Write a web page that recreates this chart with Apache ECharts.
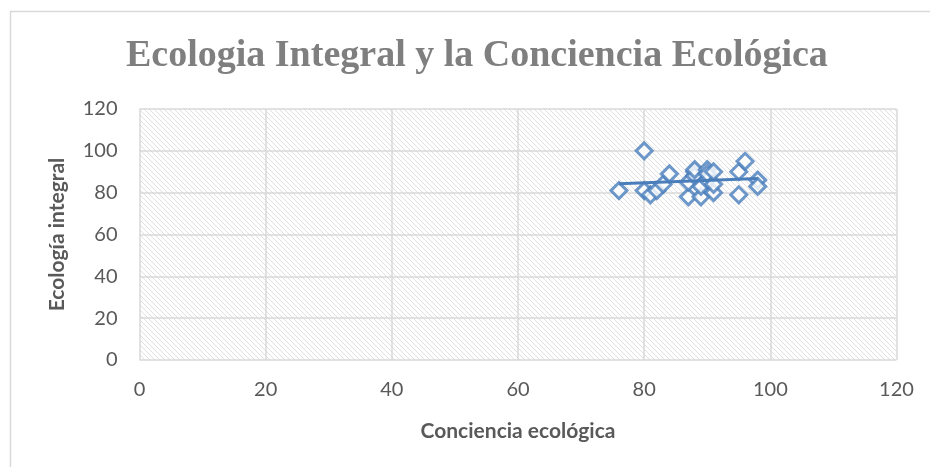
<!DOCTYPE html>
<html>
<head>
<meta charset="utf-8">
<script src="https://cdn.jsdelivr.net/npm/echarts@6/dist/echarts.min.js"></script>
<style>html,body{margin:0;padding:0;background:#fff}#c{width:930px;height:467px}</style>
</head>
<body>
<div id="c"></div>
<script>
var titleText = 'Ecologia Integral y la Conciencia Ecológica';
var xName = 'Conciencia ecológica';
var yName = 'Ecología integral';
var concienciaX = [76, 80, 80, 81, 82, 83, 84, 87, 87, 88, 88, 88, 89, 89, 90, 90, 90, 91, 91, 91, 95, 95, 96, 98, 98];
var ecologiaY   = [81, 100, 81, 79, 81, 84, 89, 78, 85, 90, 88, 91, 78, 83, 91, 86, 89, 80, 84, 90, 90, 79, 95, 86, 83];
var axisTicks = [0, 20, 40, 60, 80, 100, 120];

var points = concienciaX.map(function (x, i) { return [x, ecologiaY[i]]; });

// linear trend line (least squares) from the data
var n = concienciaX.length, sx = 0, sy = 0, sxx = 0, sxy = 0;
for (var i = 0; i < n; i++) { sx += concienciaX[i]; sy += ecologiaY[i]; sxx += concienciaX[i]*concienciaX[i]; sxy += concienciaX[i]*ecologiaY[i]; }
var slope = (n*sxy - sx*sy) / (n*sxx - sx*sx);
var icpt = (sy - slope*sx) / n;
var xmin = Math.min.apply(null, concienciaX), xmax = Math.max.apply(null, concienciaX);
var trend = [[xmin, icpt + slope*xmin], [xmax, icpt + slope*xmax]];

// hatch pattern
var tile = document.createElement('canvas');
tile.width = 5; tile.height = 5;
var tc = tile.getContext('2d');
tc.fillStyle = '#ffffff'; tc.fillRect(0,0,5,5);
tc.fillStyle = '#e0e0e0';
for (var k = 0; k < 5; k++) { tc.fillRect(k, k, 1, 1); }

var blue = '#4a7ebb';
var chart = echarts.init(document.getElementById('c'), null, {renderer: 'canvas'});
chart.setOption({
  animation: false,
  backgroundColor: '#ffffff',
  title: {
    text: titleText,
    left: 121, top: 32,
    textStyle: { fontFamily: 'Liberation Serif', fontWeight: 'bold', fontSize: 38, color: '#7f7f7f' }
  },
  graphic: [
    { type: 'line', shape: { x1: 10, y1: 11.5, x2: 930, y2: 11.5 }, style: { stroke: '#d9d9d9', lineWidth: 1.5 } },
    { type: 'line', shape: { x1: 10.5, y1: 11.5, x2: 10.5, y2: 467 }, style: { stroke: '#d9d9d9', lineWidth: 1.5 } }
  ],
  grid: {
    left: 139.5, top: 109, right: 33.5, bottom: 107,
    show: true, borderWidth: 0,
    backgroundColor: { image: tile, repeat: 'repeat' }
  },
  xAxis: {
    type: 'value', min: 0, max: 120, interval: 20,
    name: xName, nameLocation: 'middle', nameGap: 61,
    nameTextStyle: { fontFamily: 'Lato', fontWeight: 'bold', fontSize: 21, color: '#595959' },
    axisLine: { show: false }, axisTick: { show: false },
    axisLabel: { margin: 20, fontFamily: 'Lato', fontSize: 20, color: '#595959',
      formatter: function (v) { return axisTicks.indexOf(v) >= 0 ? String(v) : ''; } },
    splitLine: { show: true, lineStyle: { color: '#d9d9d9', width: 1.5 } }
  },
  yAxis: {
    type: 'value', min: 0, max: 120, interval: 20,
    name: yName, nameLocation: 'middle', nameGap: 72,
    nameTextStyle: { fontFamily: 'Lato', fontWeight: 'bold', fontSize: 21, color: '#595959' },
    axisLine: { show: false }, axisTick: { show: false },
    axisLabel: { margin: 22, fontFamily: 'Lato', fontSize: 20, color: '#595959',
      formatter: function (v) { return axisTicks.indexOf(v) >= 0 ? String(v) : ''; } },
    splitLine: { show: true, lineStyle: { color: '#d9d9d9', width: 1.5 } }
  },
  series: [
    {
      type: 'scatter', data: points, symbol: 'diamond', symbolSize: 16,
      itemStyle: { color: '#ffffff', borderColor: blue, borderWidth: 3 },
      z: 2
    },
    {
      type: 'line', data: trend, showSymbol: false, symbol: 'none',
      lineStyle: { color: blue, width: 3 }, z: 3
    }
  ]
});
</script>
</body>
</html>
